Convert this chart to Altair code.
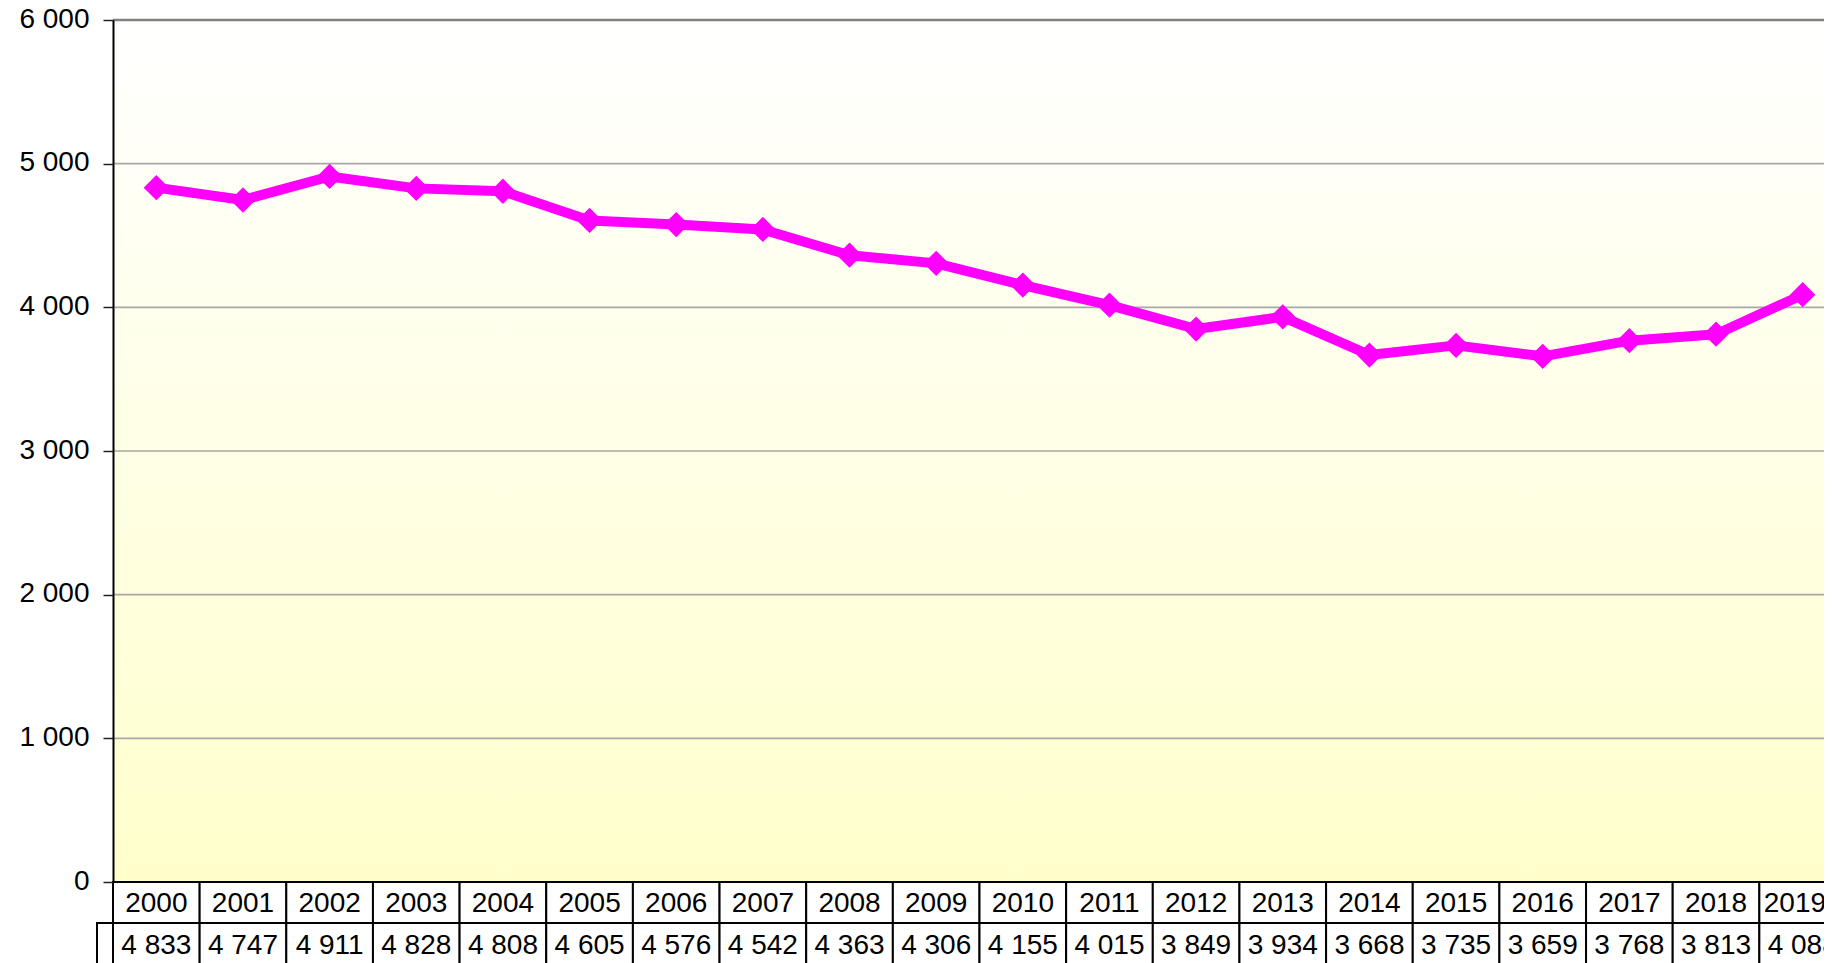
import altair as alt
import pandas as pd

years = ["2000", "2001", "2002", "2003", "2004", "2005", "2006", "2007", "2008", "2009",
         "2010", "2011", "2012", "2013", "2014", "2015", "2016", "2017", "2018", "2019e"]
values = [4833, 4747, 4911, 4828, 4808, 4605, 4576, 4542, 4363, 4306,
          4155, 4015, 3849, 3934, 3668, 3735, 3659, 3768, 3813, 4088]
y_ticks = [0, 1000, 2000, 3000, 4000, 5000, 6000]
grid_ticks = [1000, 2000, 3000, 4000, 5000]
top_tick = [6000]

FULL_W = 1733   # full width of the 20 table columns (runs past the right edge)
VIS_W = 1711    # visible part of the plot area (svg must fit in 1816px)
H = 862
ROW = 41
FONT = "Liberation Sans"

df = pd.DataFrame({
    "year": years,
    "value": values,
    "label": [f"{v:,}".replace(",", " ") for v in values],
})
grid_df = pd.DataFrame({"tick": grid_ticks})
top_df = pd.DataFrame({"tick": top_tick})
one = pd.DataFrame({"k": [0]})

xscale = alt.Scale(type="band", paddingInner=0, paddingOuter=0, range=[0, FULL_W])
yscale = alt.Scale(domain=[0, 6000], nice=False, zero=True)
yaxis = alt.Axis(values=y_ticks, grid=False, domainColor="#000000", domainWidth=2,
                 tickColor="#222222", tickSize=10, tickWidth=1.5,
                 labelExpr="replace(format(datum.value, ','), ',', ' ')",
                 labelFont=FONT, labelFontSize=28, labelColor="#000000",
                 labelPadding=14, labelOffset=-1, title=None, zindex=1)

def X():
    return alt.X("year:N", sort=years, scale=xscale, axis=None)

gradient = alt.Gradient(gradient="linear",
                        stops=[alt.GradientStop(color="#FFFFFF", offset=0),
                               alt.GradientStop(color="#FFFFCC", offset=1)],
                        x1=0, x2=0, y1=0, y2=1)

bg = alt.Chart(one).mark_rect(color=gradient).encode(
    x=alt.value(0), x2=alt.value(FULL_W), y=alt.value(0), y2=alt.value(H))

grid = alt.Chart(grid_df).mark_rule(color="#a8a8a8", strokeWidth=1.6).encode(
    y=alt.Y("tick:Q", scale=yscale, axis=yaxis), x=alt.value(0), x2=alt.value(FULL_W))

top = alt.Chart(top_df).mark_rule(color="#808080", strokeWidth=2.6).encode(
    y=alt.Y("tick:Q", scale=yscale, axis=yaxis), x=alt.value(0), x2=alt.value(FULL_W))

line = alt.Chart(df).mark_line(color="#FF00FF", strokeWidth=10, strokeJoin="round").encode(
    x=X(), y=alt.Y("value:Q", scale=yscale, axis=yaxis))

pts = alt.Chart(df).mark_point(shape="diamond", filled=True, color="#FF00FF",
                               size=640, opacity=1).encode(
    x=X(), y=alt.Y("value:Q", scale=yscale, axis=yaxis))

cells1 = alt.Chart(df).mark_rect(fill="#FFFFFF", stroke="#000000", strokeWidth=2).encode(
    x=X(), y=alt.value(H), y2=alt.value(H + ROW))
cells2 = alt.Chart(df).mark_rect(fill="#FFFFFF", stroke="#000000", strokeWidth=2).encode(
    x=X(), y=alt.value(H + ROW), y2=alt.value(H + 2 * ROW))
keycell = alt.Chart(one).mark_rect(fill="#FFFFFF", stroke="#000000", strokeWidth=2).encode(
    x=alt.value(-16), x2=alt.value(0), y=alt.value(H + ROW), y2=alt.value(H + 2 * ROW))

txt1 = alt.Chart(df).mark_text(font=FONT, fontSize=28, color="#000000",
                               baseline="middle", align="center").encode(
    x=X(), y=alt.value(H + 22), text="year:N")
txt2 = alt.Chart(df).mark_text(font=FONT, fontSize=28, color="#000000",
                               baseline="middle", align="center").encode(
    x=X(), y=alt.value(H + ROW + 23), text="label:N")

chart = alt.layer(bg, grid, top, line, pts, cells1, cells2, keycell, txt1, txt2).properties(
    width=VIS_W, height=H,
    autosize=alt.AutoSizeParams(type="none"),
    padding={"left": 105, "top": 12, "right": 0, "bottom": 81},
    background="#FFFFFF",
).configure_view(stroke=None)

chart.save("out.html", embed_options={"renderer": "svg", "actions": False})
